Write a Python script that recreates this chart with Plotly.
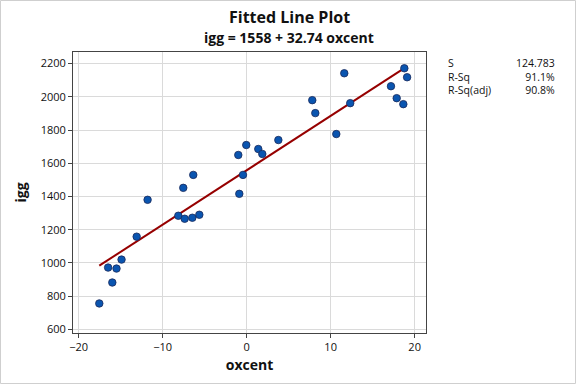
import plotly.graph_objects as go

oxcent = [-17.55, -16.5, -16.0, -15.5, -14.9, -13.1, -11.8, -8.14, -7.55, -7.38,
          -6.47, -5.64, -0.88, -6.36, -1.0, -0.05, -0.44, 1.38, 1.86, 3.77,
          7.81, 8.17, 10.67, 11.62, 12.33, 17.18, 17.86, 18.65, 18.77, 19.1]
igg = [756, 972, 882, 966, 1020, 1158, 1380, 1284, 1452, 1266,
       1272, 1290, 1416, 1530, 1650, 1710, 1530, 1686, 1656, 1740,
       1980, 1902, 1776, 2142, 1962, 2064, 1992, 1956, 2172, 2118]

intercept = 1558
slope = 32.74
stat_labels = ["S", "R-Sq", "R-Sq(adj)"]
stat_values = ["124.783", "91.1%", "90.8%"]
x_ticks = [-20, -10, 0, 10, 20]
y_ticks = [600, 800, 1000, 1200, 1400, 1600, 1800, 2000, 2200]

xmin, xmax = min(oxcent), max(oxcent)
line_x = [xmin, xmax]
line_y = [intercept + slope * v for v in line_x]

FONT = "Open Sans"
fig = go.Figure()
fig.add_trace(go.Scatter(x=line_x, y=line_y, mode="lines",
                         line=dict(color="#960000", width=2), hoverinfo="skip"))
fig.add_trace(go.Scatter(x=oxcent, y=igg, mode="markers",
                         marker=dict(size=7.5, color="#0a55b0",
                                     line=dict(color="#1a2a5a", width=0.8))))

W, H = 576, 384
L, R, T, B = 73, 150, 52, 51
pw, ph = W - L - R, H - T - B

def px(x):
    return (x - L) / pw

def py(y):
    return (H - B - y) / ph

ann = [
    dict(text="<b>Fitted Line Plot</b>", x=px(289), y=py(17), font=dict(size=16)),
    dict(text="<b>igg = 1558 + 32.74 oxcent</b>", x=px(289), y=py(38), font=dict(size=14)),
    dict(text="<br>".join(stat_labels), x=px(447), y=py(55), xanchor="left",
         yanchor="top", align="left", font=dict(size=10.5), borderpad=0),
    dict(text="<br>".join(stat_values), x=px(556), y=py(55), xanchor="right",
         yanchor="top", align="right", font=dict(size=10.5), borderpad=0),
]
for a in ann:
    a.setdefault("xanchor", "center")
    a.setdefault("yanchor", "middle")
    a.update(xref="paper", yref="paper", showarrow=False)
    a["font"].update(family=FONT, color="#111")

fig.update_layout(
    width=W, height=H, margin=dict(l=L, r=R, t=T, b=B),
    paper_bgcolor="white", plot_bgcolor="white", showlegend=False,
    font=dict(family=FONT, size=11, color="#111"),
    annotations=ann,
    shapes=[dict(type="rect", xref="paper", yref="paper",
                 x0=px(0.5), x1=px(W - 0.5), y0=py(H - 0.5), y1=py(0.5),
                 line=dict(color="#cfcfcf", width=1), layer="below")],
)
fig.update_xaxes(range=[-20.68, 21.35], tickvals=x_ticks, showgrid=True,
                 gridcolor="#dadada", gridwidth=1, zeroline=False,
                 showline=True, linecolor="#444", linewidth=1, mirror=True,
                 ticks="outside", ticklen=4, tickcolor="#444",
                 title=dict(text="<b>oxcent</b>", font=dict(size=14, family=FONT), standoff=6))
fig.update_yaxes(range=[578, 2270], tickvals=y_ticks, showgrid=True,
                 gridcolor="#dadada", gridwidth=1, zeroline=False,
                 showline=True, linecolor="#444", linewidth=1, mirror=True,
                 ticks="outside", ticklen=4, tickcolor="#444",
                 title=dict(text="<b>igg</b>", font=dict(size=14, family=FONT), standoff=10))
fig.write_html("out.html", config={"displayModeBar": False},
               post_script="document.body.style.margin='0px';document.body.style.overflow='hidden';")
